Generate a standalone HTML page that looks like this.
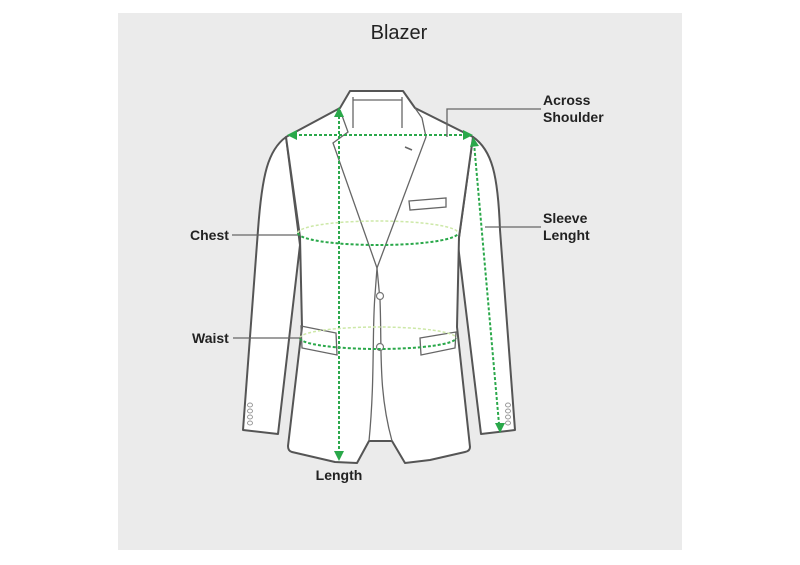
<!DOCTYPE html>
<html><head><style>
html,body{margin:0;padding:0;background:#fff;}
svg{display:block;}
text{font-family:"Liberation Sans",Arial,sans-serif;}
</style></head><body>
<svg width="800" height="565" viewBox="0 0 800 565" xmlns="http://www.w3.org/2000/svg">
<rect x="0" y="0" width="800" height="565" fill="#fff"/>
<rect x="118" y="13" width="564" height="537" fill="#ebebeb"/>
<text x="399" y="39" font-size="20" text-anchor="middle" fill="#222">Blazer</text>

<g stroke="#555" stroke-width="2" fill="#fff" stroke-linejoin="round">
<path d="M286,137 C268,150 262,175 258,230 L243,430 L278,434 L300,245 Z"/>
<path d="M473,137 C492,150 498,175 500,230 L515,430 L481,434 L458,245 Z"/>
<path d="M286,137 L340,108 L350,91 L403,91 L415,108 L473,137 L459,237 L457,327 L470,447 Q470,451 465,452 L430,460 L405,463 L392,441 L369,441 L357,463 L335,462 L292,452 Q288,451 288,446 L302,327 L300,237 Z"/>
</g>
<g stroke="#666" stroke-width="1.3" fill="none">
<path d="M353,97 L353,128"/><path d="M402,97 L402,128"/>
<path d="M353,100 L402,100"/>
<path d="M340,110 L348,132 L333,143 L377,268"/>
<path d="M415,108 L422,118 L426,137 L377,268"/>
<path d="M377,268 L375,295 C372,330 375,380 369,441"/>
<path d="M377,268 L380,300 C382,350 378,390 392,441"/>
<path d="M405,147 L412,150" stroke-width="1.5"/>
<path d="M409,201 L446,198 L446,207 L410,210 Z"/>
<path d="M301,326 L336,333 L337,355 L302,348 Z"/>
<path d="M420,338 L456,332 L455,348 L421,355 Z"/>
</g>
<circle cx="380" cy="296" r="3.5" fill="#fff" stroke="#777" stroke-width="1.2"/>
<circle cx="380" cy="347" r="3.5" fill="#fff" stroke="#777" stroke-width="1.2"/>
<g fill="none" stroke="#999" stroke-width="1">
<ellipse cx="250" cy="405" rx="2.5" ry="2"/><ellipse cx="250" cy="411" rx="2.5" ry="2"/><ellipse cx="250" cy="417" rx="2.5" ry="2"/><ellipse cx="250" cy="423" rx="2.5" ry="2"/>
<ellipse cx="508" cy="405" rx="2.5" ry="2"/><ellipse cx="508" cy="411" rx="2.5" ry="2"/><ellipse cx="508" cy="417" rx="2.5" ry="2"/><ellipse cx="508" cy="423" rx="2.5" ry="2"/>
</g>

<g stroke="#2aa84a" stroke-width="2" stroke-dasharray="3,2" fill="none">
<path d="M339,116 L339,452"/>
<path d="M294,135 L466,135"/>
<path d="M474,143 L499,424"/>
<path d="M298,233 A80,12 0 0 0 458,233"/>
<path d="M300,338 A78,11 0 0 0 456,338"/>
</g>
<g stroke="#cde8a8" stroke-width="1.5" stroke-dasharray="3,2" fill="none">
<path d="M298,233 A80,12 0 0 1 458,233"/>
<path d="M300,338 A78,11 0 0 1 456,338"/>
</g>
<g fill="#2aa84a">
<path d="M339,107 L334,117 L344,117 Z"/>
<path d="M339,461 L334,451 L344,451 Z"/>
<path d="M287,135 L297,130 L297,140 Z"/>
<path d="M473,135 L463,130 L463,140 Z"/>
<path d="M473,137 L470,147 L479,146 Z"/>
<path d="M500,433 L495,423 L505,423 Z"/>
</g>

<g stroke="#666" stroke-width="1.3" fill="none">
<path d="M541,109 L447,109 L447,137"/>
<path d="M541,227 L485,227"/>
<path d="M232,235 L298,235"/>
<path d="M233,338 L301,338"/>
</g>
<g font-size="14" font-weight="bold" fill="#222">
<text x="543" y="105">Across</text>
<text x="543" y="122">Shoulder</text>
<text x="543" y="223">Sleeve</text>
<text x="543" y="240">Lenght</text>
<text x="190" y="240">Chest</text>
<text x="192" y="343">Waist</text>
<text x="339" y="480" text-anchor="middle">Length</text>
</g>
</svg>
</body></html>
